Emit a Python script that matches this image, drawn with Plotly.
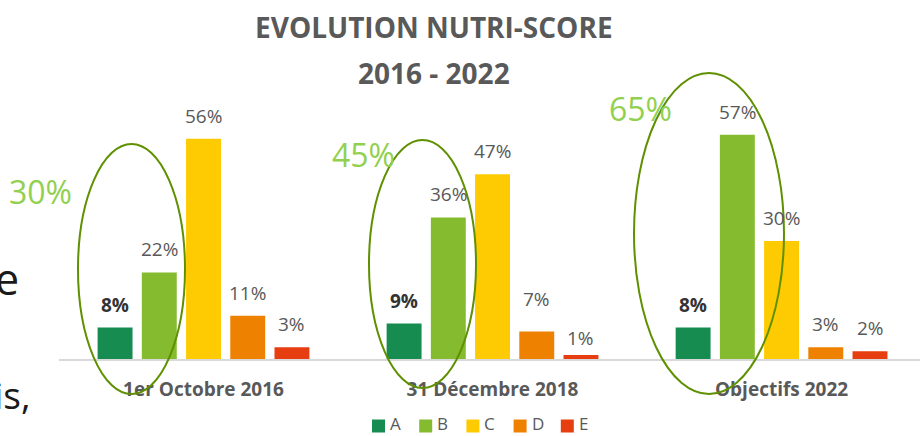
import plotly.graph_objects as go

# ---- data ----
categories = ["1er Octobre 2016", "31 Décembre 2018", "Objectifs 2022"]
grades = ["A", "B", "C", "D", "E"]
values_A = [8, 9, 8]
values_B = [22, 36, 57]
values_C = [56, 47, 30]
values_D = [11, 7, 3]
values_E = [3, 1, 2]
share_AB = ["30%", "45%", "65%"]

series = {"A": values_A, "B": values_B, "C": values_C, "D": values_D, "E": values_E}
colors = {"A": "#178c50", "B": "#85bb2f", "C": "#fecb02", "D": "#ee8100", "E": "#e63e11"}

# ---- layout geometry (pixels) ----
W, H = 920, 436
ML, MR, MT, MB = 59, 0, 123, 77
PW, PH = W - ML - MR, H - MT - MB
FONT = "Open Sans"
GRAY = "#595959"


def px(x):
    return (x - ML) / PW


def py(y):
    return (H - MB - y) / PH


fig = go.Figure()
for g in grades:
    fig.add_trace(go.Bar(
        name=g, x=categories, y=series[g], marker_color=colors[g],
        marker_line_width=0, cliponaxis=False, showlegend=False,
    ))

# value labels (annotations on data coordinates, shifted to each bar of the group)
cat_w = PW / 2.979
pitch = cat_w * (1 - 0.235) / 5
nudge = {(1, "D"): 9, (1, "E"): -6}
annotations = []
for gi, g in enumerate(grades):
    for ci, c in enumerate(categories):
        v = series[g][ci]
        annotations.append(dict(
            x=c, y=v, xref="x", yref="y", text=f"<b>{v}%</b>" if g == "A" else f"{v}%",
            showarrow=False, xshift=(gi - 2) * pitch, yanchor="bottom",
            yshift=8 + nudge.get((ci, g), 0),
            font=dict(family=FONT, size=19, color="#333333" if g == "A" else GRAY),
        ))

# big green share labels
green_pos = [(40, 191), (363, 154), (640, 109)]
for txt, (gx, gy) in zip(share_AB, green_pos):
    annotations.append(dict(x=px(gx), y=py(gy), xref="paper", yref="paper", text=txt,
                            showarrow=False, xanchor="center", yanchor="middle",
                            font=dict(family=FONT, size=32, color="#92d050")))

# title
annotations.append(dict(x=px(434), y=py(27), xref="paper", yref="paper",
                        text="<b>EVOLUTION NUTRI-SCORE</b>", showarrow=False,
                        xanchor="center", yanchor="middle",
                        font=dict(family=FONT, size=28, color=GRAY)))
annotations.append(dict(x=px(434), y=py(73), xref="paper", yref="paper",
                        text="<b>2016 - 2022</b>", showarrow=False,
                        xanchor="center", yanchor="middle",
                        font=dict(family=FONT, size=28, color=GRAY)))

# slide text fragments on the left edge
annotations.append(dict(x=px(21), y=py(278), xref="paper", yref="paper", text="e",
                        showarrow=False, xanchor="right", yanchor="middle",
                        font=dict(family=FONT, size=43, color="#1a1a1a")))
annotations.append(dict(x=px(33), y=py(394), xref="paper", yref="paper", text="is,",
                        showarrow=False, xanchor="right", yanchor="middle",
                        font=dict(family=FONT, size=37, color="#1a1a1a")))

# ellipses
ellipses = [(78, 144, 185, 394), (369, 140, 476, 388), (634, 73, 784, 394)]
shapes = []
for x0, y0, x1, y1 in ellipses:
    shapes.append(dict(type="circle", xref="paper", yref="paper",
                       x0=px(x0), x1=px(x1), y0=py(y1), y1=py(y0),
                       line=dict(color="#5e9000", width=2), fillcolor="rgba(0,0,0,0)",
                       layer="above"))

# legend (swatch + label per grade), laid out like the original
LEG_X0, LEG_PITCH, LEG_Y, SW = 372, 47.2, 426, 13
for i, g in enumerate(grades):
    sx = LEG_X0 + i * LEG_PITCH
    shapes.append(dict(type="rect", xref="paper", yref="paper",
                       x0=px(sx), x1=px(sx + SW), y0=py(LEG_Y + SW / 2), y1=py(LEG_Y - SW / 2),
                       fillcolor=colors[g], line=dict(width=0)))
    annotations.append(dict(x=px(sx + SW + 4), y=py(H - 0.5), xref="paper", yref="paper",
                            text=g, showarrow=False, xanchor="left", yanchor="bottom",
                            borderpad=0,
                            font=dict(family=FONT, size=17, color=GRAY)))

fig.update_layout(
    width=W, height=H,
    margin=dict(l=ML, r=MR, t=MT, b=MB, pad=0, autoexpand=False),
    paper_bgcolor="white", plot_bgcolor="white",
    barmode="group", bargap=0.235, bargroupgap=0.21,
    font=dict(family=FONT, color=GRAY),
    annotations=annotations, shapes=shapes,
    showlegend=False,
    xaxis=dict(range=[-0.5, 2.479], showline=True, linecolor="#d9d9d9", linewidth=2,
               showgrid=False, ticks="", ticklabelstandoff=12, automargin=False,
               tickfont=dict(family=FONT, size=19, color=GRAY, weight="bold")),
    yaxis=dict(range=[0, 60], visible=False, showgrid=False, zeroline=False),
)

fig.write_html("out.html", config={"displayModeBar": False},
               post_script="document.body.style.margin='0';document.body.style.overflow='hidden';")
